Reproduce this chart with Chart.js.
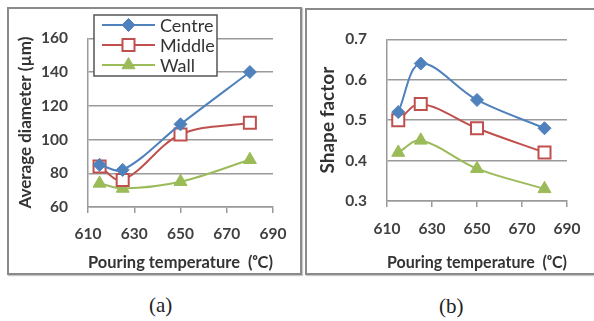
<!DOCTYPE html>
<html>
<head>
<meta charset="utf-8">
<script src="https://cdn.jsdelivr.net/npm/chart.js@4/dist/chart.umd.min.js"></script>
<style>
  body { margin: 0; width: 594px; height: 321px; background: #fff; position: relative; overflow: hidden; }
  .panel { position: absolute; border: 2px solid #8a8a8a; background: #fff; box-shadow: 1px 1px 1px #c8c8c8; }
  canvas { position: absolute; }
  .cap { position: absolute; font-family: "Liberation Serif", serif; font-size: 21px; color: #222; line-height: 1; }
</style>
</head>
<body>
<div class="panel" style="left:7px; top:7px; width:291px; height:264px;"></div>
<div class="panel" style="left:305px; top:8px; width:291px; height:263px;"></div>
<canvas id="chartA" width="291" height="264" style="left:9px; top:9px;"></canvas>
<canvas id="chartB" width="287" height="263" style="left:307px; top:10px;"></canvas>
<div class="cap" style="left:149px; top:295px;">(a)</div>
<div class="cap" style="left:439px; top:296px;">(b)</div>
<script>
// --- DATA ---
const temps = [615, 625, 650, 680];
const seriesNames = ["Centre", "Middle", "Wall"];
const diamCentre = [85, 82, 109, 140];
const diamMiddle = [84, 76, 103, 110];
const diamWall = [74, 71, 75, 88];
const shapeCentre = [0.52, 0.64, 0.55, 0.48];
const shapeMiddle = [0.50, 0.54, 0.48, 0.42];
const shapeWall = [0.42, 0.45, 0.38, 0.33];
const xTicks = [610, 630, 650, 670, 690];

const BLUE = '#4F81BD', RED = '#C0504D', GREEN = '#9BBB59';
const GRID = '#9a9a9a';
const TICK_FONT = { family: 'Lato', size: 15.5, weight: 'bold' };

function series(vals) {
  return vals.map((v, i) => ({ x: temps[i], y: v }));
}

function makeDatasets(c, m, w) {
  return [
    { label: seriesNames[0], data: series(c), borderColor: BLUE, backgroundColor: BLUE, borderWidth: 2,
      pointStyle: 'rectRot', pointRadius: 6.5, pointBorderWidth: 1, tension: 0.35, clip: false },
    { label: seriesNames[1], data: series(m), borderColor: RED, backgroundColor: '#fff', borderWidth: 2,
      pointStyle: 'rect', pointRadius: 8.5, pointBorderWidth: 2, tension: 0.35, clip: false },
    { label: seriesNames[2], data: series(w), borderColor: GREEN, backgroundColor: GREEN, borderWidth: 2,
      pointStyle: 'triangle', pointRadius: 7.5, pointBorderWidth: 1, tension: 0.35, clip: false }
  ];
}

// legend box drawn inside the plot of (a)
const boxLegend = {
  id: 'boxLegend',
  afterDraw(chart, args, opts) {
    if (!opts.show) return;
    const ctx = chart.ctx;
    ctx.save();
    ctx.fillStyle = '#fff';
    ctx.strokeStyle = '#555';
    ctx.lineWidth = 1.5;
    ctx.fillRect(85, 6, 123, 61);
    ctx.strokeRect(85, 6, 123, 61);
    chart.data.datasets.forEach((ds, i) => {
      const y = 16 + i * 20;
      ctx.strokeStyle = ds.borderColor;
      ctx.lineWidth = 2;
      ctx.beginPath();
      ctx.moveTo(93, y);
      ctx.lineTo(146, y);
      ctx.stroke();
      ctx.fillStyle = ds.backgroundColor;
      ctx.lineWidth = ds.pointBorderWidth;
      Chart.helpers.drawPoint(ctx, { pointStyle: ds.pointStyle, radius: ds.pointRadius, rotation: 0, borderWidth: ds.pointBorderWidth }, 119.5, y);
      ctx.fillStyle = '#333';
      ctx.font = '18px Lato';
      ctx.textBaseline = 'middle';
      ctx.fillText(ds.label, 151, y + 1);
    });
    ctx.restore();
  }
};

function makeChart(id, datasets, yMin, yMax, yStep, yTitle, yTitleSize, yTitlePad, pad, xHeight, xPad, legend, fmt) {
  return new Chart(document.getElementById(id), {
    type: 'line',
    data: { datasets },
    plugins: [boxLegend],
    options: {
      responsive: false,
      animation: false,
      layout: { padding: pad },
      plugins: { legend: { display: false }, tooltip: { enabled: false }, boxLegend: { show: legend } },
      scales: {
        x: {
          type: 'linear', min: 610, max: 690,
          afterBuildTicks: s => { s.ticks = xTicks.map(v => ({ value: v })); },
          afterFit: s => { s.height = xHeight; },
          grid: { drawOnChartArea: false, drawTicks: true, tickLength: 6, color: GRID, lineWidth: 1.5 },
          border: { color: GRID, width: 1.5 },
          ticks: { color: '#404040', font: TICK_FONT, padding: xPad, maxRotation: 0 },
          title: { display: true, text: 'Pouring temperature  (ᵒC)', color: '#333',
                   font: { family: 'Lato', size: 17.5, weight: 'bold' }, padding: { top: 0, bottom: 0 } }
        },
        y: {
          min: yMin, max: yMax,
          ticks: { stepSize: yStep, color: '#404040', font: TICK_FONT, padding: 20, callback: fmt },
          afterFit: s => { s.width = pad.yWidth; },
          grid: { color: GRID, lineWidth: 1.5, drawTicks: false },
          border: { color: GRID, width: 1.5 },
          title: { display: true, text: yTitle, color: '#333',
                   font: { family: 'Lato', size: yTitleSize, weight: 'bold' }, padding: { top: yTitlePad, bottom: 0 } }
        }
      }
    }
  });
}

window.addEventListener('load', () => {
  makeChart('chartA', makeDatasets(diamCentre, diamMiddle, diamWall), 60, 160, 20,
    'Average diameter (µm)', 17, 6, { top: 10, right: 27, bottom: 0, left: 0, yWidth: 79 }, 66, 12, true,
    v => v);
  makeChart('chartB', makeDatasets(shapeCentre, shapeMiddle, shapeWall), 0.3, 0.7, 0.1,
    'Shape factor', 19, 9, { top: 15, right: 27, bottom: 0, left: 0, yWidth: 80 }, 72, 13, false,
    v => v.toFixed(1));
});
</script>
</body>
</html>
